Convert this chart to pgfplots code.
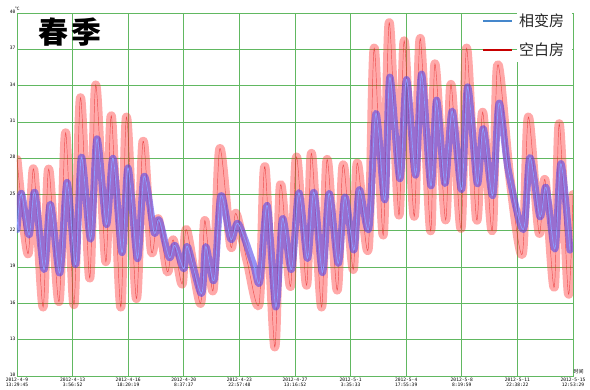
\documentclass[border=0pt]{standalone}
\usepackage{pgfplots}
\usepackage{pgfplotstable}
\pgfplotsset{compat=1.18}
\usepackage{fontspec}
\setmainfont{Liberation Sans}
\newfontfamily\cjk{Noto Sans CJK SC}
\newfontfamily\tickf{DejaVu Sans Mono}
\definecolor{gridgreen}{rgb}{0.38,0.72,0.38}
\definecolor{halored}{rgb}{1,0.2,0.2}
\definecolor{haloblue}{rgb}{0.33,0.28,0.92}
\definecolor{thinblue}{rgb}{0.55,0.62,1.0}
\definecolor{thinred}{rgb}{0.9,0.15,0.15}
\definecolor{legblue}{rgb}{0.27,0.53,0.80}
\definecolor{legred}{rgb}{0.78,0,0}

\pgfplotstableread{
d t
0.00 27.9
0.71 20.1
1.08 27.1
1.69 15.7
2.05 27.1
2.72 16.15
3.15 30.1
3.69 15.9
4.11 33.0
4.71 18.1
5.10 34.05
5.75 19.45
6.11 31.5
6.72 15.7
7.09 31.4
7.73 16.4
8.16 29.4
8.70 20.3
9.14 23.0
9.74 18.6
10.11 21.25
10.69 17.6
10.97 22.1
11.88 16.0
12.16 22.85
12.70 17.1
13.13 28.8
13.84 20.7
14.17 23.45
14.90 19.5
15.68 16.0
16.05 27.3
16.69 12.4
17.06 25.8
17.71 17.4
18.10 28.1
18.75 17.5
19.07 28.4
19.72 15.7
20.08 27.9
20.73 17.1
21.12 27.45
21.77 18.8
22.03 27.6
22.74 20.5
23.13 37.1
23.71 21.65
24.10 39.2
24.73 23.3
25.07 37.7
25.72 23.2
26.11 37.9
26.78 22.0
27.06 35.8
27.75 22.9
28.10 34.1
28.75 22.2
29.11 37.1
29.76 22.9
30.15 31.8
30.77 22.0
31.12 35.7
31.90 26.5
32.72 20.1
33.11 31.4
33.80 21.85
34.19 26.2
34.79 17.35
35.11 30.85
35.70 16.8
36.00 25.0
}\redtab

\pgfplotstableread{
d t
0.00 22.1
0.28 25.1
0.78 21.65
1.15 25.2
1.75 18.8
2.16 24.2
2.77 18.5
3.24 26.0
3.80 19.2
4.17 28.1
4.77 21.3
5.18 29.6
5.79 22.5
6.22 28.0
6.80 20.2
7.19 27.2
7.80 19.7
8.23 26.5
8.88 21.85
9.20 22.9
9.85 19.8
10.22 20.8
10.80 18.85
11.04 20.7
11.94 16.8
12.22 20.7
12.76 17.9
13.20 24.9
13.84 21.3
14.32 22.6
15.29 19.3
15.72 17.8
16.20 24.1
16.76 15.7
17.19 23.0
17.77 18.8
18.25 25.15
18.81 19.7
19.22 25.2
19.78 18.55
20.21 25.1
20.80 19.3
21.23 24.8
21.81 20.4
22.16 25.4
22.78 22.2
23.24 31.7
23.82 24.55
24.14 34.7
24.79 26.3
25.22 34.5
25.81 26.6
26.20 34.95
26.80 25.7
27.17 32.8
27.71 25.9
28.18 31.9
28.79 25.4
29.18 33.9
29.80 25.9
30.19 30.45
30.80 24.9
31.21 32.55
31.81 27.0
32.78 22.1
33.21 28.05
33.86 23.15
34.25 25.6
34.83 20.5
35.22 27.55
35.80 20.4
}\bluetab

\begin{document}
\begin{tikzpicture}
\path[use as bounding box] (-17bp,-14bp) rectangle (573bp,376bp);
\begin{axis}[
  at={(0,0)}, anchor=south west,
  scale only axis, width=556bp, height=363bp,
  xmin=0, xmax=36, ymin=10, ymax=40,
  xtick={0,3.6,7.2,10.8,14.4,18,21.6,25.2,28.8,32.4,36},
  xticklabels={{2012-4-9\\13:29:45},{2012-4-13\\3:56:52},{2012-4-16\\18:20:19},{2012-4-20\\8:37:37},{2012-4-23\\22:57:48},{2012-4-27\\13:16:52},{2012-5-1\\3:35:33},{2012-5-4\\17:55:39},{2012-5-8\\8:19:59},{2012-5-11\\22:38:22},{2012-5-15\\12:53:29}},
  ytick={10,13,...,40},
  grid=major,
  major grid style={draw=gridgreen, line width=0.8bp},
  axis line style={draw=gridgreen, line width=0.8bp},
  major tick length=0pt,
  /pgf/number format/assume math mode=true,
  xticklabel style={align=center, font=\tickf\fontsize{4.6bp}{5.2bp}\selectfont, inner sep=0.5bp, yshift=-1.5bp},
  yticklabel style={font=\tickf\fontsize{4.6bp}{5.6bp}\selectfont, inner sep=1.5bp, yshift=1bp},
]
\addplot[halored, opacity=0.42, line width=9bp, smooth, tension=0.5, line cap=round, line join=round] table[x=d,y=t] {\redtab};
\addplot[thinred, opacity=0.7, line width=0.45bp, smooth, tension=0.5] table[x=d,y=t] {\redtab};
\addplot[haloblue, opacity=0.6, line width=7bp, smooth, tension=0.5, line cap=round, line join=round] table[x=d,y=t] {\bluetab};
\addplot[thinblue, line width=0.7bp, smooth, tension=0.5] table[x=d,y=t] {\bluetab};
\end{axis}
% legend
\fill[white] (500bp,314bp) rectangle (555.4bp,362.6bp);
\draw[legblue, line width=2.2bp] (466bp,355.3bp) -- (495bp,355.3bp);
\draw[legred, line width=1.6bp] (466bp,326bp) -- (495bp,326bp);
\node[font=\cjk\fontsize{15bp}{17bp}\selectfont, text=black!85, anchor=west, inner sep=0pt] at (502bp,355.3bp) {相变房};
\node[font=\cjk\fontsize{15bp}{17bp}\selectfont, text=black!85, anchor=west, inner sep=0pt] at (502bp,326bp) {空白房};
% title and labels
\node[font=\cjk\bfseries\fontsize{30bp}{30bp}\selectfont, anchor=center] at (53bp,344bp) {春\hspace{3bp}季};
\node[font=\cjk\fontsize{4.5bp}{5bp}\selectfont, anchor=south west, inner sep=0pt] at (-2bp,365bp) {℃};
\node[font=\cjk\fontsize{5bp}{6bp}\selectfont, anchor=south west, inner sep=0.5bp] at (556bp,1bp) {时间};
\end{tikzpicture}
\end{document}
